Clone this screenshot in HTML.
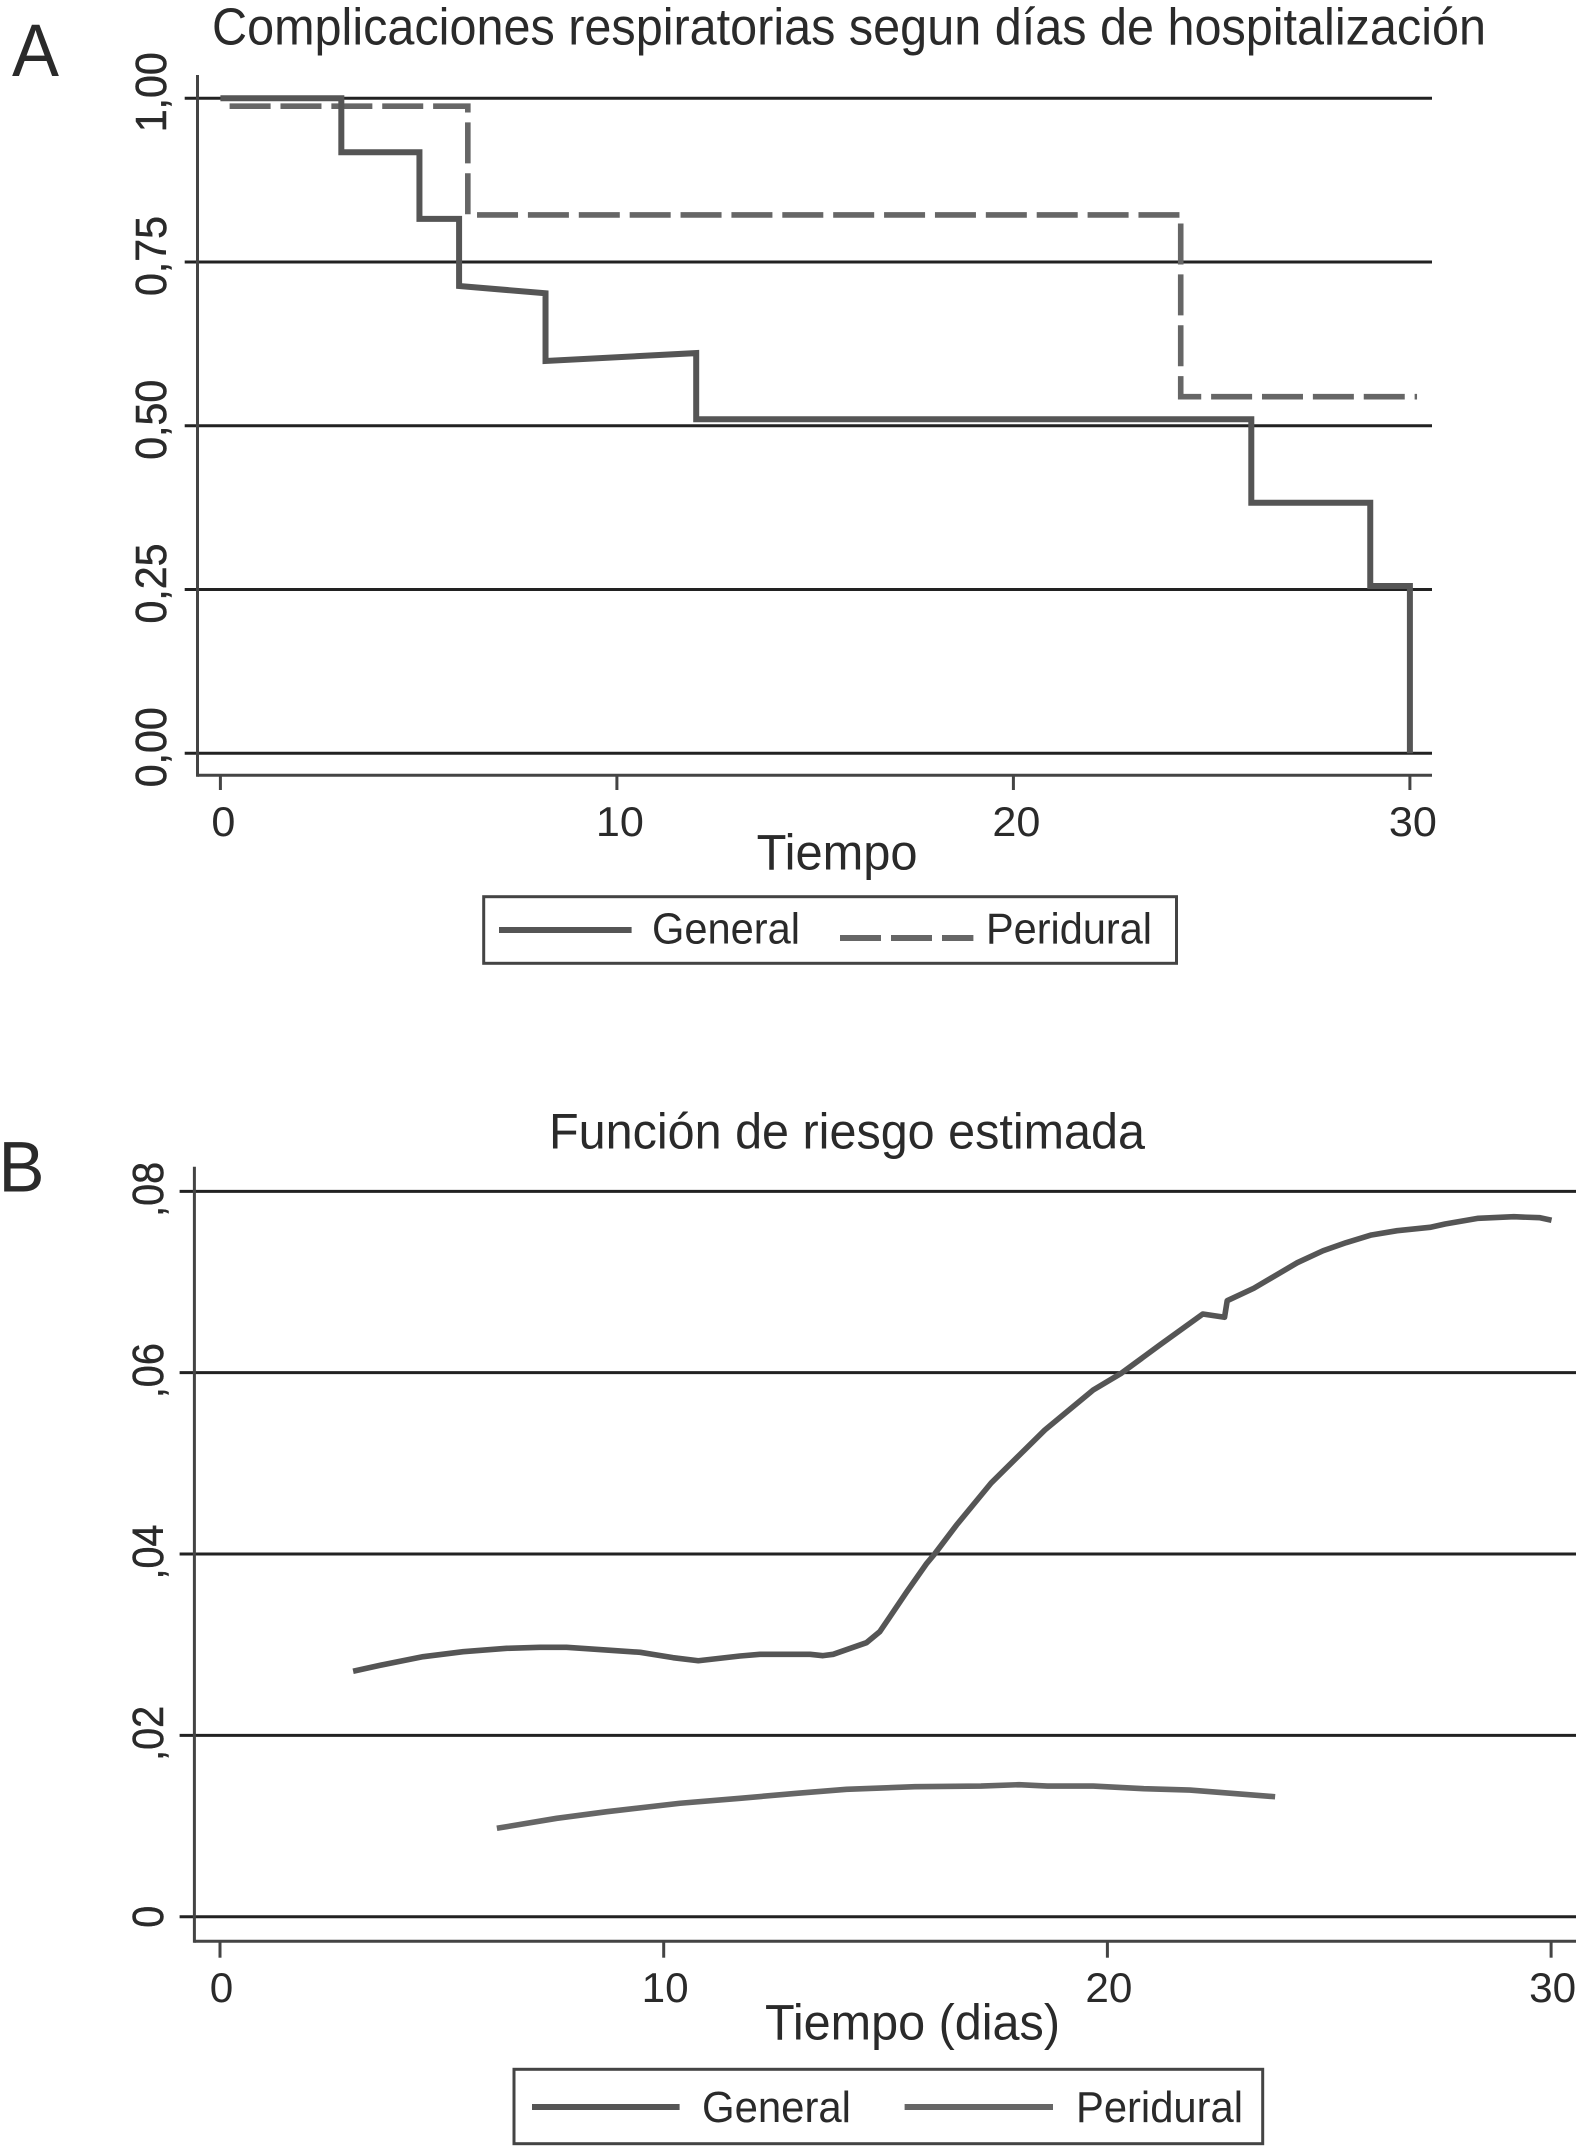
<!DOCTYPE html>
<html lang="es">
<head>
<meta charset="utf-8">
<title>Complicaciones respiratorias y función de riesgo</title>
<style>
  html, body { margin: 0; padding: 0; background: #fff; }
  svg { display: block; }
  text { font-family: "Liberation Sans", Arial, sans-serif; fill: #2a2a2a; }
</style>
</head>
<body>
<svg id="figure" xmlns="http://www.w3.org/2000/svg" width="1577" height="2146" viewBox="0 0 1577 2146">
  <rect x="0" y="0" width="1577" height="2146" fill="#ffffff"/>

  <text x="12" y="76" font-size="74" textLength="47" lengthAdjust="spacingAndGlyphs">A</text>
  <text x="212" y="44.5" font-size="52" textLength="1274" lengthAdjust="spacingAndGlyphs">Complicaciones respiratorias segun días de hospitalización</text>
  <text x="756.6" y="869.3" font-size="50" textLength="161" lengthAdjust="spacingAndGlyphs">Tiempo</text>

  <g>
    <rect x="483.7" y="896.7" width="692.8" height="66.6" fill="none" stroke="#444" stroke-width="3"/>
    <line x1="499" y1="930" x2="631.6" y2="930" stroke="#555" stroke-width="6"/>
    <text x="652" y="943.3" font-size="44" textLength="148" lengthAdjust="spacingAndGlyphs">General</text>
    <line x1="840" y1="938" x2="973.4" y2="938" stroke="#666" stroke-width="6" stroke-dasharray="41 10"/>
    <text x="986" y="943.3" font-size="44" textLength="166" lengthAdjust="spacingAndGlyphs">Peridural</text>
  </g>

  <text x="-1.5" y="1191.7" font-size="71" textLength="46" lengthAdjust="spacingAndGlyphs">B</text>
  <text x="549" y="1148.3" font-size="50" textLength="596" lengthAdjust="spacingAndGlyphs">Función de riesgo estimada</text>
  <text x="765" y="2039.3" font-size="50" textLength="295" lengthAdjust="spacingAndGlyphs">Tiempo (dias)</text>

  <g>
    <rect x="514" y="2069.3" width="748.7" height="74.4" fill="none" stroke="#444" stroke-width="3"/>
    <line x1="532" y1="2107" x2="679.6" y2="2107" stroke="#555" stroke-width="6"/>
    <text x="702" y="2122" font-size="44" textLength="149" lengthAdjust="spacingAndGlyphs">General</text>
    <line x1="904.6" y1="2107" x2="1053" y2="2107" stroke="#666" stroke-width="6"/>
    <text x="1076" y="2122" font-size="44" textLength="167" lengthAdjust="spacingAndGlyphs">Peridural</text>
  </g>

  <g id="panel-a-plot"></g>
  <g id="panel-b-plot"></g>
</svg>

<script>
// Panel A data
const aXTicks = [0, 10, 20, 30];
const aXTickLabels = ['0', '10', '20', '30'];
const aYTicks = [1, 0.75, 0.5, 0.25, 0];
const aYTickLabels = ['1,00', '0,75', '0,50', '0,25', '0,00'];
const aGeneralTime = [0, 3.05, 3.05, 5.02, 5.02, 6.02, 6.02, 8.2, 8.2, 12, 12, 26, 26, 29, 29, 30, 30];
const aGeneralSurvival = [1, 1, 0.9176, 0.9176, 0.816, 0.816, 0.7135, 0.7023, 0.599, 0.611, 0.51, 0.51, 0.3826, 0.3826, 0.2554, 0.2554, 0];
const aPeriduralTime = [0.232, 6.24, 6.24, 24.22, 24.22, 30.18];
const aPeriduralSurvival = [0.988, 0.988, 0.822, 0.822, 0.5445, 0.5445];

// Panel B data
const bXTicks = [0, 10, 20, 30];
const bXTickLabels = ['0', '10', '20', '30'];
const bYTicks = [0.08, 0.06, 0.04, 0.02, 0];
const bYTickLabels = [',08', ',06', ',04', ',02', '0'];
const bGeneralTime = [3.00, 3.67, 4.58, 5.48, 6.46, 7.21, 7.81, 8.72, 9.47, 10.21, 10.78, 11.72, 12.17, 13.30, 13.59, 13.82, 14.57, 14.87, 15.10, 15.48, 15.93, 16.11, 16.60, 17.38, 18.59, 19.68, 20.32, 21.18, 22.15, 22.64, 22.70, 23.30, 24.28, 24.86, 25.38, 25.95, 26.53, 27.27, 27.61, 28.36, 29.16, 29.75, 30.01];
const bGeneralHazard = [0.02707, 0.02779, 0.02868, 0.02923, 0.02960, 0.02971, 0.02971, 0.02941, 0.02916, 0.02857, 0.02823, 0.02875, 0.02894, 0.02894, 0.02879, 0.02894, 0.03022, 0.03143, 0.03309, 0.03584, 0.03898, 0.04003, 0.04320, 0.04783, 0.05368, 0.05809, 0.05996, 0.06305, 0.06647, 0.06611, 0.06794, 0.06931, 0.07213, 0.07345, 0.07434, 0.07519, 0.07566, 0.07603, 0.07640, 0.07703, 0.07720, 0.07709, 0.07681];
const bPeriduralTime = [6.24, 7.59, 8.72, 10.37, 11.72, 13.00, 14.12, 15.66, 17.15, 18.01, 18.65, 19.68, 20.82, 21.86, 22.90, 23.78];
const bPeriduralHazard = [0.00975, 0.01085, 0.01158, 0.01251, 0.01306, 0.01361, 0.01405, 0.01434, 0.01441, 0.01456, 0.01441, 0.01441, 0.01412, 0.01397, 0.01357, 0.01323];

const SVG_NS = 'http://www.w3.org/2000/svg';

function make(parent, tag, props, content) {
  const node = document.createElementNS(SVG_NS, tag);
  Object.keys(props).forEach(function (k) { node.setAttribute(k, props[k]); });
  if (content !== undefined) node.textContent = content;
  parent.appendChild(node);
  return node;
}

function pathFrom(xs, ys, xFn, yFn) {
  return xs.map(function (x, i) {
    return (i === 0 ? 'M' : 'L') + xFn(x).toFixed(2) + ' ' + yFn(ys[i]).toFixed(2);
  }).join(' ');
}

// ---------- Panel A ----------
const aX = function (t) { return 220.4 + 39.65 * t; };
const aY = function (v) { return 753.3 - 655 * v; };
const aPlot = document.getElementById('panel-a-plot');
let el;

aYTicks.forEach(function (v, i) {
  el = make(aPlot, 'line', { x1: 184.7, x2: 1432, y1: aY(v), y2: aY(v), stroke: '#222', 'stroke-width': 3 });
  
  
  const cy = aY(v) - 6;
  el = make(aPlot, 'text', { transform: 'translate(166 ' + cy + ') rotate(-90)', 'text-anchor': 'middle', 'font-size': 44, textLength: 80, lengthAdjust: 'spacingAndGlyphs', stroke: '#2a2a2a', 'stroke-width': 0.5 }, aYTickLabels[i]);
  
  
});

el = make(aPlot, 'line', { x1: 197.5, x2: 197.5, y1: 75, y2: 776.8, stroke: '#444', 'stroke-width': 3 });


el = make(aPlot, 'line', { x1: 197.5, x2: 1432, y1: 775.3, y2: 775.3, stroke: '#444', 'stroke-width': 3 });



aXTicks.forEach(function (t, i) {
  el = make(aPlot, 'line', { x1: aX(t), x2: aX(t), y1: 775.3, y2: 790, stroke: '#444', 'stroke-width': 3 });
  
  
  el = make(aPlot, 'text', { x: aX(t) + 3, y: 836, 'text-anchor': 'middle', 'font-size': 42, textLength: aXTickLabels[i].length * 24, lengthAdjust: 'spacingAndGlyphs' }, aXTickLabels[i]);
  
  
});

el = make(aPlot, 'path', { d: pathFrom(aPeriduralTime, aPeriduralSurvival, aX, aY), fill: 'none', stroke: '#666', 'stroke-width': 5.6, 'stroke-dasharray': '41 9.88', 'stroke-linejoin': 'miter' });


el = make(aPlot, 'path', { d: pathFrom(aGeneralTime, aGeneralSurvival, aX, aY), fill: 'none', stroke: '#555', 'stroke-width': 6, 'stroke-linejoin': 'miter' });



// ---------- Panel B ----------
const bX = function (t) { return 220 + 44.37 * t; };
const bY = function (v) { return 1916.7 - 9067 * v; };
const bPlot = document.getElementById('panel-b-plot');

bYTicks.forEach(function (v, i) {
  el = make(bPlot, 'line', { x1: 179.6, x2: 1576, y1: bY(v), y2: bY(v), stroke: '#222', 'stroke-width': 3 });
  
  
  const cy = bY(v) + (bYTickLabels[i].length > 1 ? -2 : 0);
  el = make(bPlot, 'text', { transform: 'translate(163 ' + cy + ') rotate(-90)', 'text-anchor': 'middle', 'font-size': 44, textLength: bYTickLabels[i].length > 1 ? 55 : 22, lengthAdjust: 'spacingAndGlyphs', stroke: '#2a2a2a', 'stroke-width': 0.5 }, bYTickLabels[i]);
  
  
});

el = make(bPlot, 'line', { x1: 194.4, x2: 194.4, y1: 1166.7, y2: 1942.8, stroke: '#444', 'stroke-width': 3 });


el = make(bPlot, 'line', { x1: 194.4, x2: 1576, y1: 1941.3, y2: 1941.3, stroke: '#444', 'stroke-width': 3 });



bXTicks.forEach(function (t, i) {
  el = make(bPlot, 'line', { x1: bX(t), x2: bX(t), y1: 1941.3, y2: 1957.7, stroke: '#444', 'stroke-width': 3 });
  
  
  el = make(bPlot, 'text', { x: bX(t) + 1.5, y: 2002, 'text-anchor': 'middle', 'font-size': 42, textLength: bXTickLabels[i].length * 23.5, lengthAdjust: 'spacingAndGlyphs' }, bXTickLabels[i]);
  
  
});

el = make(bPlot, 'path', { d: pathFrom(bGeneralTime, bGeneralHazard, bX, bY), fill: 'none', stroke: '#555', 'stroke-width': 5.6, 'stroke-linejoin': 'round' });


el = make(bPlot, 'path', { d: pathFrom(bPeriduralTime, bPeriduralHazard, bX, bY), fill: 'none', stroke: '#666', 'stroke-width': 5.6, 'stroke-linejoin': 'round' });


</script>
</body>
</html>
